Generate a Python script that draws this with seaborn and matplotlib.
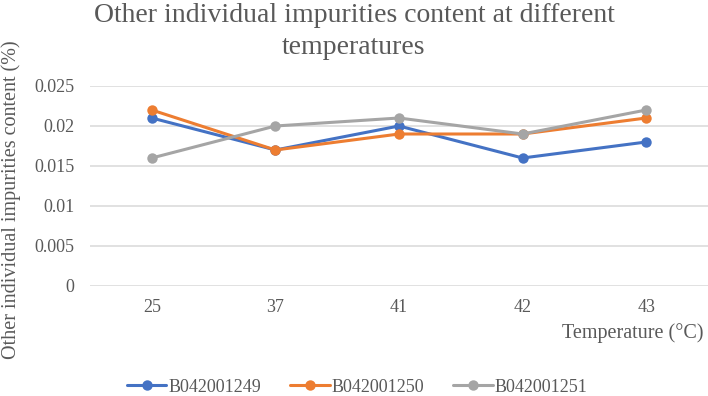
import pandas as pd
import matplotlib
matplotlib.use('Agg')
import matplotlib.pyplot as plt
import seaborn as sns

temperatures = ['25', '37', '41', '42', '43']
batch_249 = [0.021, 0.017, 0.020, 0.016, 0.018]
batch_250 = [0.022, 0.017, 0.019, 0.019, 0.021]
batch_251 = [0.016, 0.020, 0.021, 0.019, 0.022]
batches = ['B042001249', 'B042001250', 'B042001251']
colors = ['#4472C4', '#ED7D31', '#A5A5A5']


def make_df():
    rows = []
    for name, vals in zip(batches, [batch_249, batch_250, batch_251]):
        for t, v in zip(temperatures, vals):
            rows.append({'Temperature': t, 'Content': v, 'Batch': name})
    return pd.DataFrame(rows)


if __name__ == '__main__':
    sns.set_theme(style='white')
    plt.rcParams['font.family'] = ['Liberation Serif', 'DejaVu Serif']
    txt = '#595959'

    df = make_df()

    fig = plt.figure(figsize=(7.08, 3.96), dpi=100)
    ax = fig.add_axes([90 / 708, 1 - 286 / 396, 618 / 708, 200 / 396])

    sns.lineplot(data=df, x='Temperature', y='Content', hue='Batch',
                 palette=colors, marker='o', markersize=7.5,
                 markeredgewidth=0, linewidth=2.2, sort=False,
                 legend=False, ax=ax)

    ax.set_xlim(-0.5, len(temperatures) - 0.5)
    ax.set_ylim(0, 0.025)
    ax.set_yticks([0, 0.005, 0.01, 0.015, 0.02, 0.025])
    ax.set_yticklabels(['0', '0.005', '0.01', '0.015', '0.02', '0.025'])
    ax.yaxis.grid(True, color='#D9D9D9', linewidth=1.1)
    ax.set_axisbelow(True)
    for s in ax.spines.values():
        s.set_visible(False)
    ax.tick_params(axis='both', length=0, labelsize=13, colors=txt)
    ax.tick_params(axis='y', pad=11)
    ax.tick_params(axis='x', pad=9)
    ax.set_xlabel('')
    ax.set_ylabel('')

    fig.text(0.5, 1 - 3 / 396, 'Other individual impurities content at different\ntemperatures',
             ha='center', va='top', fontsize=20, color=txt, linespacing=1.38)
    fig.text(11 / 708, 1 - 200 / 396, 'Other individual impurities content (%)',
             rotation=90, ha='center', va='center', fontsize=14.5, color=txt)
    fig.text(703 / 708, 1 - 333 / 396, 'Temperature (°C)',
             ha='right', va='center', fontsize=14.5, color=txt)

    handles = [plt.Line2D([], [], color=c, marker='o', markersize=7.5,
                          markeredgewidth=0, linewidth=2.2) for c in colors]
    fig.legend(handles, batches, loc='center', bbox_to_anchor=(357 / 708, 1 - 387 / 396),
               ncol=3, frameon=False, fontsize=13, handlelength=2.2,
               handletextpad=0.1, columnspacing=1.6, labelcolor=txt,
               borderpad=0, borderaxespad=0)

    plt.savefig('out.png', dpi=100)
    plt.close('all')
